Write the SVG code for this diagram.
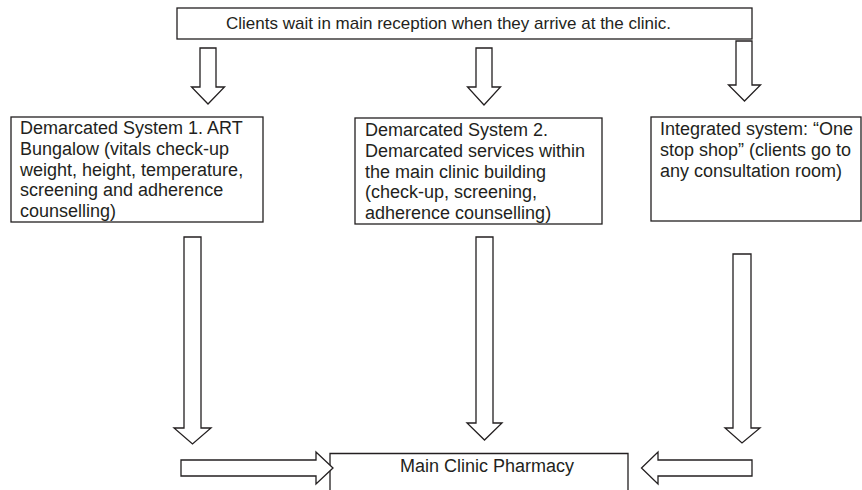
<svg xmlns="http://www.w3.org/2000/svg" width="862" height="490" viewBox="0 0 862 490">
<style>
.box{fill:#fff;stroke:#231f20;stroke-width:1.3}
.arr{fill:#fff;stroke:#231f20;stroke-width:1.3;stroke-linejoin:miter}
text{font-family:"Liberation Sans",Arial,sans-serif;font-size:18px;fill:#231f20}
</style>
<rect width="862" height="490" fill="#fff"/>
<g id="reception">
<rect class="box" x="177" y="8" width="575" height="31"/>
<text x="448.5" y="28.5" text-anchor="middle" style="font-size:17px">Clients wait in main reception when they arrive at the clinic.</text>
</g>
<g id="system1">
<rect class="box" x="11" y="117" width="252" height="105"/>
<text x="20" y="134">Demarcated System 1. ART</text>
<text x="20" y="154.8">Bungalow (vitals check-up</text>
<text x="20" y="175.6">weight, height, temperature,</text>
<text x="20" y="196.4">screening and adherence</text>
<text x="20" y="217.2">counselling)</text>
</g>
<g id="system2">
<rect class="box" x="355" y="118" width="247" height="106"/>
<text x="365" y="136">Demarcated System 2.</text>
<text x="365" y="156.8">Demarcated services within</text>
<text x="365" y="177.6">the main clinic building</text>
<text x="365" y="198.4">(check-up, screening,</text>
<text x="365" y="219.2">adherence counselling)</text>
</g>
<g id="integrated">
<rect class="box" x="651" y="117" width="210" height="104"/>
<text x="660" y="135">Integrated system: “One</text>
<text x="660" y="155.8">stop shop” (clients go to</text>
<text x="660" y="176.6">any consultation room)</text>
</g>
<g id="pharmacy">
<path class="box" d="M330,491 V453.5 H628 V491"/>
<text x="400" y="471.5">Main Clinic Pharmacy</text>
</g>
<g id="connectors">
<polygon class="arr" points="200,48 216,48 216,87 224.5,87 208,104 191.5,87 200,87"/>
<polygon class="arr" points="476,48 492,48 492,87 500.5,87 484,105 467.5,87 476,87"/>
<polygon class="arr" points="736,41 752,41 752,85 760.5,85 744.5,101 728.5,85 736,85"/>
<polygon class="arr" points="184,237 201,237 201,428 211,428 192.5,444 174,428 184,428"/>
<polygon class="arr" points="476,237 493,237 493,423 502,423 484.5,440 467,423 476,423"/>
<polygon class="arr" points="733,254 751,254 751,428 760,428 742,443 725,428 733,428"/>
<polygon class="arr" points="181,460 316,460 316,452 333,468 316,484 316,476 181,476"/>
<polygon class="arr" points="752,460 658,460 658,452 641.5,468 658,484 658,476 752,476"/>
</g>
</svg>
